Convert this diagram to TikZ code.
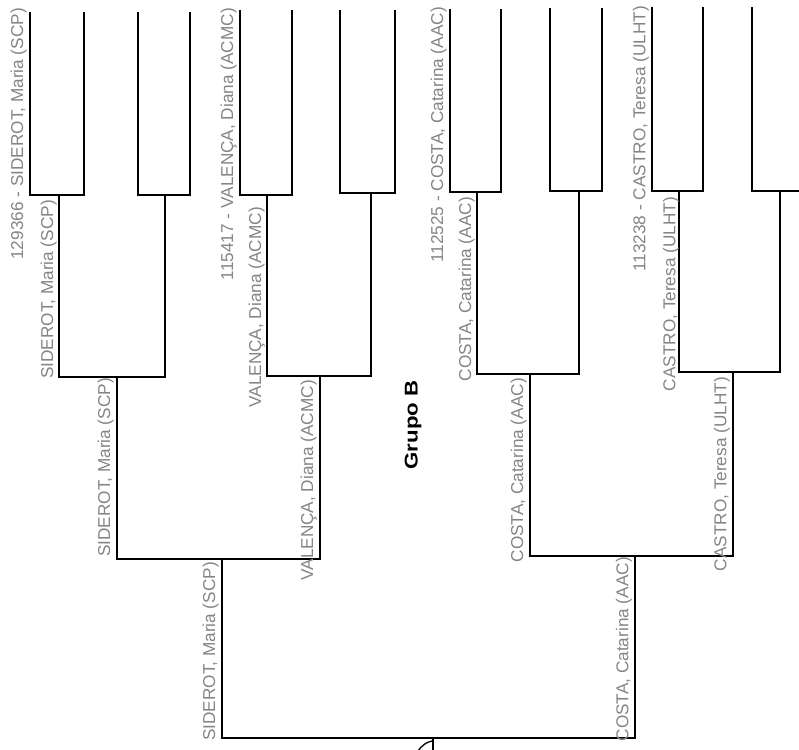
\documentclass[tikz,border=0pt]{standalone}
\usepackage{fontspec}
\usepackage{graphicx}
\setmainfont{Liberation Sans}
\definecolor{lblgray}{gray}{0.52}
\begin{document}
\begin{tikzpicture}[x=1pt,y=-1pt,
  bline/.style={line width=2.3pt, line join=miter, black},
  lbl/.style={rotate=90, anchor=south east, inner sep=0pt, text=lblgray, font=\fontsize{17.2}{19}\selectfont},
  grouptitle/.style={rotate=90, inner sep=0pt, font=\bfseries\fontsize{18.5}{20}\selectfont}]
\useasboundingbox (0,0) rectangle (799,749);
\fill[white] (0,0) rectangle (799,749);
\clip (0,0) rectangle (799,749);
% leaves
\coordinate (l1) at (30,12);
\coordinate (l2) at (84,12);
\coordinate (l3) at (138,12);
\coordinate (l4) at (190,12);
\coordinate (l5) at (240,10);
\coordinate (l6) at (292,10);
\coordinate (l7) at (340,10);
\coordinate (l8) at (395,10);
\coordinate (l9) at (450,9);
\coordinate (l10) at (501,9);
\coordinate (l11) at (550,8);
\coordinate (l12) at (602,8);
\coordinate (l13) at (652,7);
\coordinate (l14) at (703,7);
\coordinate (l15) at (752,7);
\coordinate (l16) at (808,7);
% round 1 junctions
\coordinate (m1) at (59,195);
\coordinate (m2) at (165,195);
\coordinate (m3) at (267,195);
\coordinate (m4) at (371,193);
\coordinate (m5) at (477,192);
\coordinate (m6) at (579,191);
\coordinate (m7) at (679,191);
\coordinate (m8) at (780,191);
% round 2 junctions
\coordinate (q1) at (117,377);
\coordinate (q2) at (320,376);
\coordinate (q3) at (530,374);
\coordinate (q4) at (733,372);
% round 3 junctions
\coordinate (s1) at (222,559);
\coordinate (s2) at (635,556);
% final
\coordinate (f) at (433,738);
\coordinate (fe) at (433,760);

\draw[bline] (l1) |- (m1) -| (l2);
\draw[bline] (l3) |- (m2) -| (l4);
\draw[bline] (l5) |- (m3) -| (l6);
\draw[bline] (l7) |- (m4) -| (l8);
\draw[bline] (l9) |- (m5) -| (l10);
\draw[bline] (l11) |- (m6) -| (l12);
\draw[bline] (l13) |- (m7) -| (l14);
\draw[bline] (l15) |- (m8) -| (l16);
\draw[bline] (m1) |- (q1) -| (m2);
\draw[bline] (m3) |- (q2) -| (m4);
\draw[bline] (m5) |- (q3) -| (m6);
\draw[bline] (m7) |- (q4) -| (m8);
\draw[bline] (q1) |- (s1) -| (q2);
\draw[bline] (q3) |- (s2) -| (q4);
\draw[bline] (s1) |- (f) -| (s2);
\draw[bline] (f) -- (fe);
\draw[line width=1.3pt] (418,751) .. controls (422,745) and (427,742) .. (432,741);

% round 1 labels
\node[lbl] (n1) at (27,8) {129366 - SIDEROT, Maria (SCP)};
\node[lbl] (n5) at (237,8) {115417 - VALENÇA, Diana (ACMC)};
\node[lbl] (n9) at (447,7) {112525 - COSTA, Catarina (AAC)};
\node[lbl] (n13) at (649,6) {113238 - CASTRO, Teresa (ULHT)};
% round 2 labels
\node[lbl] (r1) at (57,200) {SIDEROT, Maria (SCP)};
\node[lbl] (r2) at (265,207) {VALENÇA, Diana (ACMC)};
\node[lbl] (r3) at (475,197) {COSTA, Catarina (AAC)};
\node[lbl] (r4) at (679,197) {CASTRO, Teresa (ULHT)};
% round 3 labels
\node[lbl] (t1) at (114,378) {SIDEROT, Maria (SCP)};
\node[lbl] (t2) at (317,380) {VALENÇA, Diana (ACMC)};
\node[lbl] (t3) at (527,378) {COSTA, Catarina (AAC)};
\node[lbl] (t4) at (730,377) {CASTRO, Teresa (ULHT)};
% round 4 labels
\node[lbl] (u1) at (219,562) {SIDEROT, Maria (SCP)};
\node[lbl] (u2) at (632,557) {COSTA, Catarina (AAC)};
% title
\node[grouptitle] (grp) at (413,425) {\scalebox{1.2}[1]{Grupo B}};
\end{tikzpicture}
\end{document}
